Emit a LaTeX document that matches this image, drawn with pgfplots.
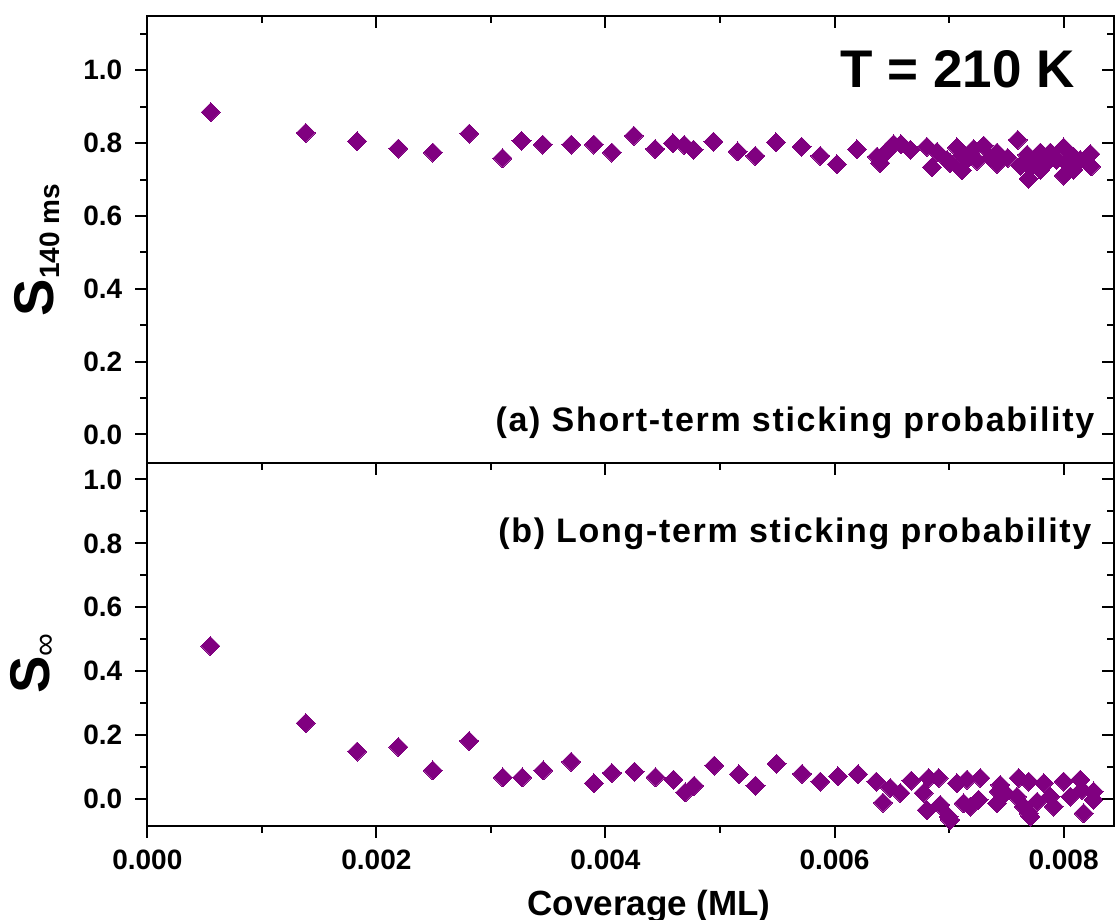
\documentclass[border=0pt]{standalone}
\usepackage{pgfplots}
\usepackage{pgfplotstable}
\pgfplotsset{compat=1.18}
\usepackage{fontspec}
\setmainfont{Liberation Sans}
\newfontfamily\annfont[LetterSpace=5]{Liberation Sans}
\definecolor{pur}{HTML}{800080}

\pgfplotstableread{
x y
0.000554 0.885
0.001383 0.828
0.001832 0.805
0.002192 0.785
0.002493 0.774
0.002810 0.826
0.003101 0.759
0.003267 0.806
0.003453 0.796
0.003701 0.796
0.003899 0.796
0.004056 0.774
0.004248 0.820
0.004434 0.784
0.004589 0.800
0.004688 0.795
0.004769 0.782
0.004943 0.804
0.005153 0.777
0.005308 0.765
0.005488 0.802
0.005712 0.790
0.005875 0.765
0.006021 0.742
0.006196 0.783
0.006371 0.763
0.006399 0.745
0.006452 0.776
0.006516 0.797
0.006580 0.797
0.006662 0.782
0.006807 0.790
0.006851 0.734
0.006895 0.776
0.006982 0.754
0.007011 0.745
0.007069 0.788
0.007113 0.725
0.007113 0.765
0.007150 0.754
0.007214 0.784
0.007244 0.752
0.007302 0.793
0.007360 0.760
0.007419 0.774
0.007419 0.743
0.007511 0.759
0.007599 0.809
0.007622 0.738
0.007681 0.768
0.007695 0.702
0.007710 0.736
0.007762 0.760
0.007797 0.774
0.007797 0.727
0.007849 0.746
0.007884 0.774
0.007937 0.754
0.008000 0.788
0.008000 0.711
0.008024 0.746
0.008085 0.763
0.008085 0.727
0.008146 0.754
0.008234 0.770
0.008240 0.736
}\topdata

\pgfplotstableread{
x y
0.000550 0.479
0.001383 0.238
0.001832 0.149
0.002192 0.163
0.002493 0.090
0.002810 0.182
0.003104 0.068
0.003273 0.068
0.003456 0.090
0.003701 0.117
0.003899 0.050
0.004056 0.082
0.004254 0.086
0.004437 0.069
0.004594 0.061
0.004696 0.021
0.004775 0.042
0.004950 0.105
0.005165 0.078
0.005310 0.042
0.005494 0.111
0.005716 0.079
0.005875 0.055
0.006030 0.071
0.006205 0.078
0.006364 0.055
0.006423 -0.011
0.006487 0.035
0.006575 0.019
0.006670 0.058
0.006821 0.066
0.006909 0.066
0.006778 0.019
0.006807 -0.034
0.006923 -0.018
0.006996 -0.055
0.007011 -0.065
0.007069 0.050
0.007157 0.061
0.007127 -0.013
0.007185 -0.023
0.007273 0.066
0.007258 -0.002
0.007433 0.024
0.007447 0.045
0.007491 0.019
0.007419 -0.013
0.007593 0.008
0.007607 0.066
0.007651 -0.023
0.007695 0.055
0.007695 -0.044
0.007709 -0.055
0.007768 -0.008
0.007826 0.050
0.007884 0.008
0.007913 -0.023
0.008000 0.055
0.008059 0.008
0.008146 0.061
0.008161 0.029
0.008175 -0.044
0.008262 -0.002
0.008262 0.024
}\botdata

\begin{document}
\begin{tikzpicture}
\path[use as bounding box] (-73.65pt,-47.15pt) rectangle (483.85pt,412.85pt);
\pgfplotsset{
  base/.style={
    scale only axis, width=483.35pt,
    xmin=0, xmax=0.00844, scaled x ticks=false, scaled y ticks=false,
    xtick={0,0.002,0.004,0.006,0.008},
    minor xtick={0.001,0.003,0.005,0.007},
    ytick={0,0.2,0.4,0.6,0.8,1.0},
    minor ytick={0.1,0.3,0.5,0.7,0.9,1.1},
    axis line style={line width=1pt},
    every tick/.style={black, line width=1pt},
    major tick length=6pt, minor tick length=3.5pt,
    /pgf/number format/assume math mode=true,
    tick label style={font=\fontsize{14}{16}\selectfont\bfseries},
    xticklabel style={/pgf/number format/fixed, /pgf/number format/fixed zerofill, /pgf/number format/precision=3},
    yticklabel style={/pgf/number format/fixed, /pgf/number format/fixed zerofill, /pgf/number format/precision=1},
  },
  pts/.style={only marks, mark=square*, mark size=3.36pt,
    mark options={rotate=45, fill=pur, draw=pur, line width=0pt}},
}
% ---- top panel ----
\begin{axis}[base, at={(0,181.1pt)}, height=223.9pt,
  ymin=-0.08, ymax=1.15,
  xtick=\empty, minor xtick={}, ytick pos=left, tick align=outside,
  ylabel={{\fontsize{28}{30}\selectfont\bfseries S}\raisebox{-3.3pt}{\fontsize{14}{16}\selectfont\bfseries 140 ms}},
  ylabel style={at={(axis description cs:-0.114,0.477)}, anchor=center},
  yticklabel style={xshift=-3pt}]
  \addplot[pts] table[x=x,y=y] {\topdata};
  \node[anchor=base east, inner sep=0pt, font=\fontsize{26.5}{30}\selectfont\bfseries] at (rel axis cs:0.9597,0.840) {T = 210 K};
  \node[anchor=base east, font=\annfont\fontsize{17}{20}\selectfont\bfseries, inner sep=0pt] at (rel axis cs:0.980,0.072) {(a) Short-term sticking probability};
\end{axis}
\begin{axis}[base, at={(0,181.1pt)}, height=223.9pt,
  ymin=-0.08, ymax=1.15, axis line style={draw=none},
  xtick pos=top, ytick pos=right, tick align=inside,
  xticklabels={,,}, yticklabels={,,}]
\end{axis}
% ---- bottom panel ----
\begin{axis}[base, at={(0,0)}, height=181.1pt,
  ymin=-0.083, ymax=1.05,
  xtick pos=bottom, ytick pos=left, tick align=outside,
  xticklabel style={yshift=-2.5pt},
  xlabel={Coverage (ML)},
  xlabel style={font=\fontsize{17.5}{20}\selectfont\bfseries, at={(axis description cs:0.519,-0.2466)}, anchor=base},
  ylabel={{\fontsize{28}{30}\selectfont\bfseries S}\raisebox{-3pt}{\fontsize{16}{18}\selectfont ∞}},
  ylabel style={at={(axis description cs:-0.118,0.448)}, anchor=center},
  yticklabel style={xshift=-3pt}]
  \addplot[pts] table[x=x,y=y] {\botdata};
  \node[anchor=base east, font=\annfont\fontsize{17}{20}\selectfont\bfseries, inner sep=0pt] at (rel axis cs:0.977,0.7805) {(b) Long-term sticking probability};
\end{axis}
\begin{axis}[base, at={(0,0)}, height=181.1pt,
  ymin=-0.083, ymax=1.05, axis line style={draw=none},
  xtick pos=top, ytick pos=right, tick align=inside,
  xticklabels={,,}, yticklabels={,,}]
\end{axis}
\end{tikzpicture}
\end{document}
